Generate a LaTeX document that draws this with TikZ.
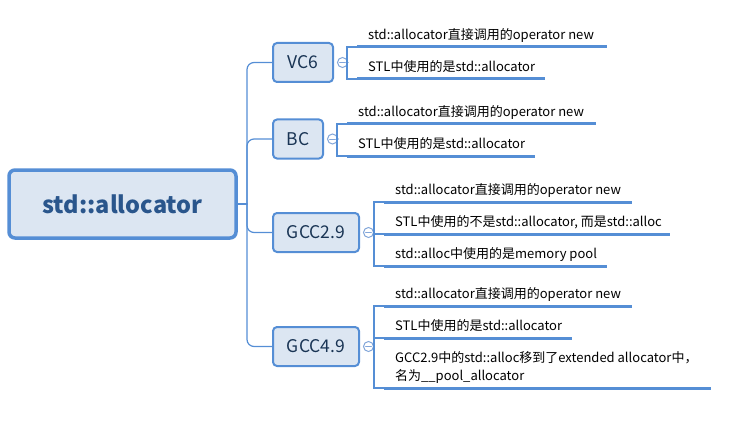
\documentclass[tikz,border=0pt]{standalone}
\usepackage{fontspec}
\setmainfont{Noto Sans CJK SC}
\usetikzlibrary{positioning}

\definecolor{mapline}{RGB}{85,142,213}
\definecolor{mapfill}{RGB}{220,230,242}
\definecolor{maptext}{RGB}{42,86,140}
\definecolor{foldline}{RGB}{130,166,218}

\begin{document}
\begin{tikzpicture}[x=1pt, y=-1pt, line cap=round,
    rootbox/.style={draw=mapline, fill=mapfill, line width=3.5pt,
        rounded corners=6pt, minimum width=227pt, minimum height=68pt,
        font=\fontsize{23.5}{27}\selectfont\bfseries, text=maptext},
    verbox/.style={draw=mapline, fill=mapfill, line width=2pt,
        rounded corners=4pt, minimum height=39pt,
        font=\fontsize{17.5}{20}\selectfont, text=maptext!60!black},
    fold/.style={circle, draw=foldline, fill=white, line width=1pt,
        minimum size=10pt, inner sep=0pt,
        path picture={\draw[foldline, line width=1pt]
          ([xshift=-2.8pt]path picture bounding box.center) --
          ([xshift=2.8pt]path picture bounding box.center);}},
    leaf/.style={anchor=south west, inner xsep=11pt, inner ysep=7.5pt,
        text depth=0pt, align=left, font=\fontsize{13}{18}\selectfont},
    branch/.style={draw=mapline, line width=1.2pt, rounded corners=7pt},
    uline/.style={draw=mapline, line width=3pt, line cap=butt},
    bracket/.style={draw=mapline, line width=1.2pt}
  ]

    \useasboundingbox (0,0) rectangle (741,425);

    % root and versions
    \node[rootbox] (root) at (122.5,204) {std::allocator};
    \node[verbox, minimum width=60pt] (vc6) at (303,62.5) {VC6};
    \node[verbox, minimum width=50pt] (bc) at (298,139) {BC};
    \node[verbox, minimum width=86pt] (gcc29) at (316,232.5) {GCC2.9};
    \node[verbox, minimum width=86pt] (gcc49) at (316,346.5) {GCC4.9};

    \coordinate (hub) at (247,204);
    \draw[branch] (root.east) -- (hub);
    \foreach \v in {vc6,bc,gcc29,gcc49}{
        \draw[branch] (hub) |- (\v.west);
        \node[fold, right=3pt of \v] (\v f) {};
    }

    % VC6
    \foreach \n/\y/\w/\t in {a/47/250/{std::allocator直接调用的operator new},
                             b/79/188/{STL中使用的是std::allocator}}{
        \node[leaf] (vc6\n) at (357,\y) {\t};
        \draw[uline] (vc6\n.south west) -- ++(\w,0);
    }
    \draw[bracket] (vc6a.south west) -- ++(-10,0) coordinate (vc6s) |- (vc6b.south west);
    \draw[bracket] (vc6f.east) -- (vc6f.east -| vc6s);

    % BC
    \foreach \n/\y/\w/\t in {a/124/249/{std::allocator直接调用的operator new},
                             b/156/188/{STL中使用的是std::allocator}}{
        \node[leaf] (bc\n) at (347,\y) {\t};
        \draw[uline] (bc\n.south west) -- ++(\w,0);
    }
    \draw[bracket] (bca.south west) -- ++(-10,0) coordinate (bcs) |- (bcb.south west);
    \draw[bracket] (bcf.east) -- (bcf.east -| bcs);

    % GCC2.9
    \foreach \n/\y/\w/\t in {a/202/248/{std::allocator直接调用的operator new},
                             b/234/286/{STL中使用的不是std::allocator, 而是std::alloc},
                             c/266/223/{std::alloc中使用的是memory pool}}{
        \node[leaf] (gcc29\n) at (384,\y) {\t};
        \draw[uline] (gcc29\n.south west) -- ++(\w,0);
    }
    \draw[bracket] (gcc29a.south west) -- ++(-10,0) coordinate (gcc29s) |- (gcc29c.south west);
    \draw[bracket] (gcc29s |- gcc29b.south west) -- (gcc29b.south west);
    \draw[bracket] (gcc29f.east) -- (gcc29f.east -| gcc29s);

    % GCC4.9
    \foreach \n/\y/\w/\t in {a/306/248/{std::allocator直接调用的operator new},
                             b/338/188/{STL中使用的是std::allocator},
                             c/388/327/{GCC2.9中的std::alloc移到了extended allocator中，\\名为\_\_pool\_allocator}}{
        \node[leaf] (gcc49\n) at (384,\y) {\t};
        \draw[uline] (gcc49\n.south west) -- ++(\w,0);
    }
    \draw[bracket] (gcc49a.south west) -- ++(-10,0) coordinate (gcc49s) |- (gcc49c.south west);
    \draw[bracket] (gcc49s |- gcc49b.south west) -- (gcc49b.south west);
    \draw[bracket] (gcc49f.east) -- (gcc49f.east -| gcc49s);

\end{tikzpicture}
\end{document}
